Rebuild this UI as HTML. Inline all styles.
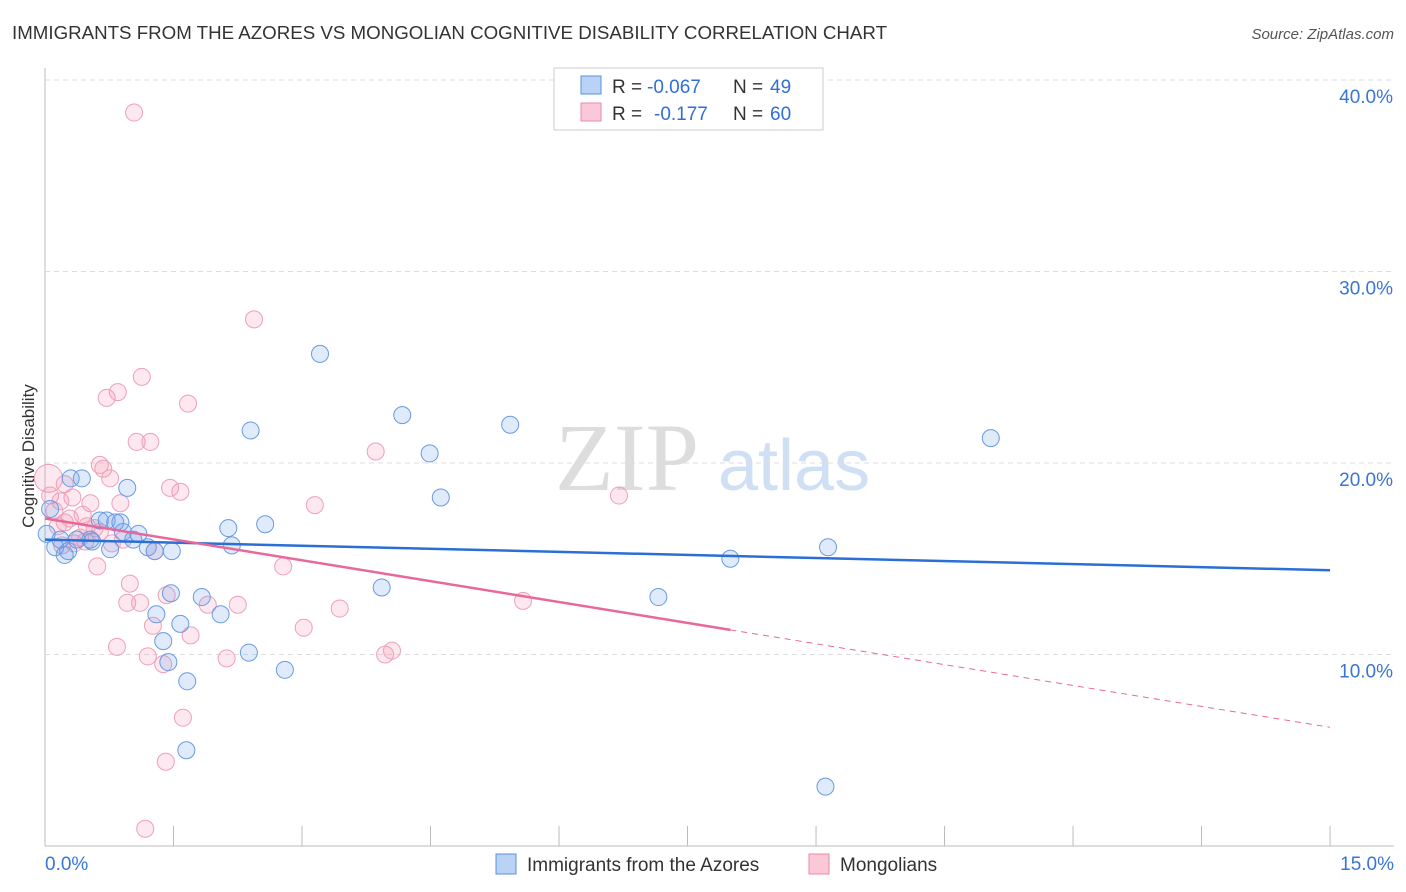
<!DOCTYPE html>
<html><head><meta charset="utf-8"><style>
body{margin:0;background:#fff;font-family:"Liberation Sans",sans-serif}
</style></head><body>
<svg id="c" width="1406" height="892" style="display:block">
<text x="12" y="39" font-size="18" fill="#333" textLength="875" lengthAdjust="spacingAndGlyphs">IMMIGRANTS FROM THE AZORES VS MONGOLIAN COGNITIVE DISABILITY CORRELATION CHART</text>
<text x="1394" y="39" font-size="15" fill="#555" font-style="italic" text-anchor="end">Source: ZipAtlas.com</text>
<text x="34" y="456" font-size="17" fill="#333" transform="rotate(-90 34 456)" text-anchor="middle">Cognitive Disability</text>
<text x="555" y="490" font-size="96" fill="#ddd" font-family="Liberation Serif">ZIP</text>
<text x="718" y="490" font-size="72" fill="#cfe0f5">atlas</text>
<g id="grid"></g><g id="pts"></g><g id="lines"></g>
<g>
<rect x="554" y="68" width="269" height="62" fill="#fff" stroke="#ccc"/>
<rect x="581" y="76" width="20" height="18" fill="#b9d3f5" stroke="#5b8fe0"/>
<rect x="581" y="103" width="20" height="18" fill="#fac8d6" stroke="#e88aa8"/>
<text x="612" y="93" font-size="19" fill="#333">R =</text>
<text x="647" y="93" font-size="19" fill="#2f6fd6">-0.067</text>
<text x="733" y="93" font-size="19" fill="#333">N =</text>
<text x="770" y="93" font-size="19" fill="#2f6fd6">49</text>
<text x="612" y="120" font-size="19" fill="#333">R =</text>
<text x="654" y="120" font-size="19" fill="#2f6fd6">-0.177</text>
<text x="733" y="120" font-size="19" fill="#333">N =</text>
<text x="770" y="120" font-size="19" fill="#2f6fd6">60</text>
</g>
<g>
<rect x="496" y="854" width="20" height="20" fill="#b9d3f5" stroke="#5b8fe0"/>
<text x="527" y="871" font-size="19" fill="#333">Immigrants from the Azores</text>
<rect x="809" y="854" width="20" height="20" fill="#fac8d6" stroke="#e88aa8"/>
<text x="840" y="871" font-size="19" fill="#333">Mongolians</text>
</g>
</svg>
<script>
const xTicks=[0,1.5,3,4.5,6,7.5,9,10.5,12,13.5,15];
const yTicks=[10,20,30,40];
const blueX=[0.30,0.43,0.96,0.18,0.12,0.53,0.64,0.72,0.82,0.88,1.09,0.91,1.20,1.28,1.03,1.48,0.76,0.55,0.23,1.30,1.47,1.58,1.38,1.44,1.66,1.65,1.83,2.05,2.14,2.18,2.38,2.80,2.57,2.40,3.21,3.93,4.17,4.49,4.62,5.43,7.16,8.00,9.14,11.04,9.11,0.27,0.37,0.02,0.06];
const blueY=[19.2,19.2,18.7,16.0,15.6,16.0,17.0,17.0,16.9,16.9,16.3,16.4,15.6,15.4,16.0,15.4,15.5,15.9,15.2,12.1,13.2,11.6,10.7,9.6,8.6,5.0,13.0,12.1,16.6,15.7,10.1,9.2,16.8,21.7,25.7,13.5,22.5,20.5,18.2,22.0,13.0,15.0,15.6,21.3,3.1,15.4,16.0,16.3,17.6];
const pinkX=[1.04,2.44,1.13,0.85,0.72,1.67,1.07,1.23,3.86,0.64,0.68,0.76,0.23,0.04,0.32,0.53,0.88,1.46,1.58,3.15,6.70,0.49,0.15,0.58,0.41,0.34,0.78,0.20,0.91,1.28,0.61,0.99,0.96,1.11,1.42,1.90,2.25,2.78,3.44,1.26,1.70,0.84,1.20,1.38,2.12,3.02,3.97,4.05,5.58,1.61,1.41,1.17,0.06,0.11,0.23,0.44,0.18,0.29,0.64,0.47];
const pinkY=[38.3,27.5,24.5,23.7,23.4,23.1,21.1,21.1,20.6,19.9,19.7,19.2,18.9,19.2,18.2,17.9,17.9,18.7,18.5,17.8,18.3,16.7,16.7,16.6,16.1,15.8,15.8,15.7,16.0,15.4,14.6,13.7,12.7,12.7,13.1,12.6,12.6,14.6,12.4,11.5,11.0,10.4,9.9,9.5,9.8,11.4,10.0,10.2,12.8,6.7,4.4,0.9,18.3,17.5,16.9,17.3,18.0,17.1,16.4,15.9];
const blueFit=[16.0,14.4];
const pinkFit=[17.1,6.2];
const X=v=>45+v*85.67, Y=v=>846-v*19.15;
const NS='http://www.w3.org/2000/svg';
function mk(p,t,a){const e=document.createElementNS(NS,t);for(const k in a)e.setAttribute(k,a[k]);p.appendChild(e);return e;}
const grid=document.getElementById('grid'),pts=document.getElementById('pts'),lines=document.getElementById('lines');
mk(grid,'line',{x1:45,y1:68,x2:45,y2:846,stroke:'#bbb'});
mk(grid,'line',{x1:45,y1:846,x2:1394,y2:846,stroke:'#bbb'});
yTicks.forEach(t=>{
 const l=mk(grid,'line',{x1:45,y1:Y(t),x2:1394,y2:Y(t),stroke:'#ddd','stroke-dasharray':'5,4'});
 
 
 const tx=mk(grid,'text',{x:1393,y:Y(t)+23,'font-size':19,fill:'#3a75d4','text-anchor':'end'});tx.textContent=t.toFixed(1)+'%';
 
 
});
xTicks.forEach((t,i)=>{
 const l=mk(grid,'line',{x1:X(t),y1:826,x2:X(t),y2:846,stroke:'#bbb'});
 
 
});
[[0,'0.0%','start',45],[15,'15.0%','end',1394]].forEach(a=>{
 const tx=mk(grid,'text',{x:a[3],y:870,'font-size':19,fill:'#3a75d4','text-anchor':a[2]});tx.textContent=a[1];
 
 
});
pinkX.forEach((v,i)=>{
 const c=mk(pts,'circle',{cx:X(v),cy:Y(pinkY[i]),r:i==13?14:8.5,fill:'rgba(242,150,178,0.22)',stroke:'#eea0b8','stroke-width':1});
 
 
});
blueX.forEach((v,i)=>{
 const c=mk(pts,'circle',{cx:X(v),cy:Y(blueY[i]),r:8.5,fill:'rgba(110,160,235,0.22)',stroke:'#6a9ae3','stroke-width':1});
 
 
});
const bl=mk(lines,'line',{x1:X(0),y1:Y(blueFit[0]),x2:X(15),y2:Y(blueFit[1]),stroke:'#2a6fd6','stroke-width':2.5});


const pm=v=>pinkFit[0]+(pinkFit[1]-pinkFit[0])*v/15;
const pl=mk(lines,'line',{x1:X(0),y1:Y(pm(0)),x2:X(8),y2:Y(pm(8)),stroke:'#e8689a','stroke-width':2.5});


const pd=mk(lines,'line',{x1:X(8),y1:Y(pm(8)),x2:X(15),y2:Y(pm(15)),stroke:'#e8689a','stroke-width':1,'stroke-dasharray':'6,5'});


</script>
</body></html>
